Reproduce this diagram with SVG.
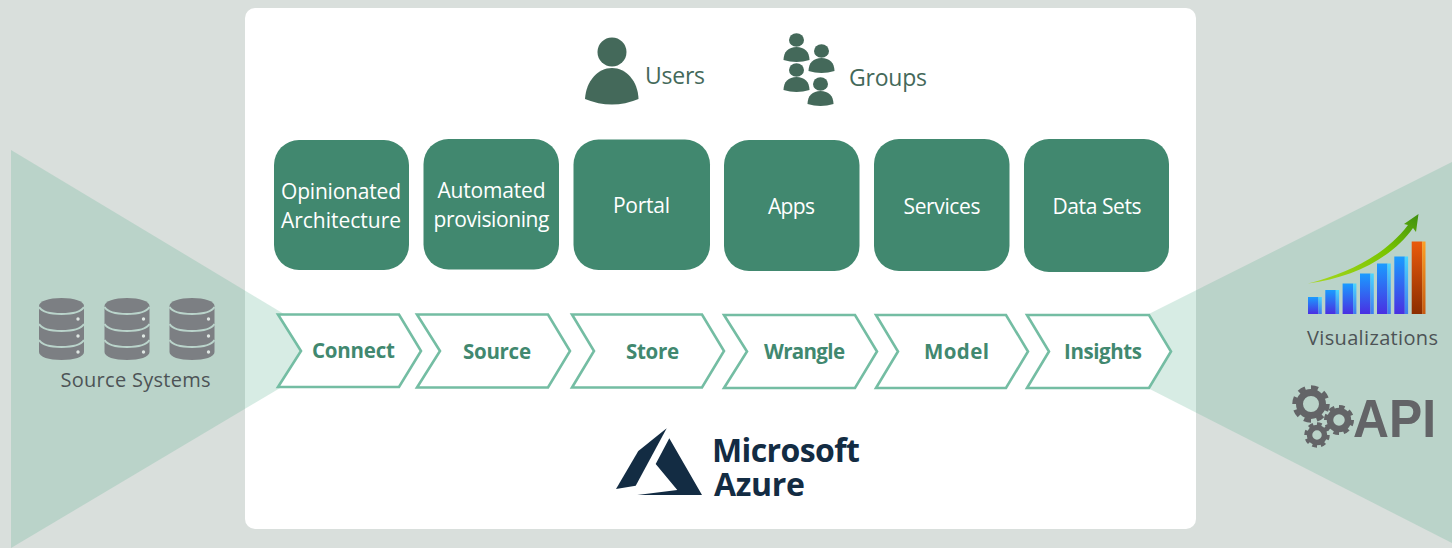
<svg xmlns="http://www.w3.org/2000/svg" xmlns:xlink="http://www.w3.org/1999/xlink" width="1452" height="548" viewBox="0 0 1452 548">
<style>
text{font-family:"Open Sans","Noto Sans","Liberation Sans",sans-serif}
.card{fill:#41886f}
.ct{fill:#fff;font-size:21px;text-anchor:middle}
.chev{fill:#fff;stroke:#74bda3;stroke-width:2.6}
.cht{fill:#41886f;font-size:20.5px;font-weight:700}
.lbl{fill:#4d5356;font-size:20px}
.ug{fill:#44695a}
.ut{fill:#44695a;font-size:23px}
.wedge{fill:#56af8e;fill-opacity:.237}
.db{fill:#7c7f83}
.dbl{fill:none;stroke:#bad4cb;stroke-width:2}
.dot{fill:#dfe7e3}
.gh{fill:none;stroke:#636467}
.az{fill:#132c43}
.azt{fill:#132c43;font-size:32px;font-weight:700}
</style>
<defs>
<linearGradient id="blue" x1="0" y1="0" x2="0" y2="1"><stop offset="0" stop-color="#1a9cff"/><stop offset="1" stop-color="#4a2fe2"/></linearGradient>
<linearGradient id="blues" x1="0" y1="0" x2="0" y2="1"><stop offset="0" stop-color="#49d6ff"/><stop offset="1" stop-color="#3f7cf0"/></linearGradient>
<linearGradient id="org" x1="0" y1="0" x2="0" y2="1"><stop offset="0" stop-color="#ea5a0c"/><stop offset="1" stop-color="#8c2e00"/></linearGradient>
<linearGradient id="orgs" x1="0" y1="0" x2="0" y2="1"><stop offset="0" stop-color="#ffa024"/><stop offset="1" stop-color="#c85a10"/></linearGradient>
<linearGradient id="grn" x1="0" y1="1" x2="1" y2="0"><stop offset="0" stop-color="#a8d820"/><stop offset=".6" stop-color="#78c400"/><stop offset="1" stop-color="#3f8f10"/></linearGradient>
<g id="person"><ellipse cx="13" cy="-7" rx="7.500" ry="6.800"/><path d="M0 13C0 5 5 0 13 0S26 5 26 13Q13 17 0 13Z"/></g>
<g id="cyl"><path d="M0 8C0 3 10 0 22.500 0S45 3 45 8V54C45 59 35 62 22.500 62S0 59 0 54Z" class="db"/>
<path class="dbl" d="M0 9C3 14 12 16 22.500 16S42 14 45 9M0 26C3 31 12 33 22.500 33S42 31 45 26M0 42C3 47 12 49 22.500 49S42 47 45 42"/>
<circle class="dot" cx="39" cy="21" r="1.700"/><circle class="dot" cx="39" cy="38" r="1.700"/><circle class="dot" cx="39" cy="54" r="1.700"/></g>
</defs>
<rect width="1452" height="548" fill="#d9dfdc"/>
<rect id="panel" x="245" y="8" width="951" height="521" rx="10" fill="#fff"/>
<polygon id="wedge-left" class="wedge" points="11,150 344,350 11,548"/>
<polygon id="wedge-right" class="wedge" points="1452,162 1075,351 1452,543"/>

<g id="users"><g class="ug"><circle cx="612" cy="52" r="14.500"/><path d="M585 99C586 81 598 68 612 68S638 81 638.500 99Q612 110 585 99Z"/></g><text class="ut" x="645" y="84" textLength="60">Users</text></g>
<g id="groups"><g class="ug"><use xlink:href="#person" href="#person" x="783.500" y="47"/><use xlink:href="#person" href="#person" x="808.500" y="58"/><use xlink:href="#person" href="#person" x="783.500" y="77"/><use xlink:href="#person" href="#person" x="807.500" y="91"/></g><text class="ut" x="849" y="86" textLength="78">Groups</text></g>

<g id="card-architecture"><rect class="card" x="274" y="140" width="135" height="130" rx="25"/><text class="ct" x="341" y="199" textLength="120">Opinionated</text><text class="ct" x="341" y="228" textLength="120">Architecture</text></g>
<g id="card-provisioning"><rect class="card" x="423.500" y="139" width="135.500" height="130.500" rx="25"/><text class="ct" x="491.500" y="198" textLength="108">Automated</text><text class="ct" x="491.500" y="227" textLength="116">provisioning</text></g>
<g id="card-portal"><rect class="card" x="573.500" y="139.500" width="136.500" height="130.500" rx="25"/><text class="ct" x="641.500" y="213" textLength="57">Portal</text></g>
<g id="card-apps"><rect class="card" x="724" y="140" width="135.500" height="131" rx="25"/><text class="ct" x="791.500" y="214" textLength="47">Apps</text></g>
<g id="card-services"><rect class="card" x="874" y="139" width="135.500" height="132" rx="25"/><text class="ct" x="942" y="214" textLength="77">Services</text></g>
<g id="card-datasets"><rect class="card" x="1024" y="139" width="145" height="133" rx="25"/><text class="ct" x="1097" y="214" textLength="89">Data Sets</text></g>

<g id="connectors">
<g id="step-connect"><polygon class="chev" points="278,314.500 399,314.500 421,351 399,387 278,387 301,351"/><text class="cht" x="312" y="357.500" textLength="83">Connect</text></g>
<g id="step-source"><polygon class="chev" points="417,314.500 548,314.500 570,351 548,387.500 417,387.500 440,351"/><text class="cht" x="463" y="358.500" textLength="68">Source</text></g>
<g id="step-store"><polygon class="chev" points="572,314.500 702,314.500 724,351 702,387.500 572,387.500 594,351"/><text class="cht" x="626" y="358.500" textLength="53">Store</text></g>
<g id="step-wrangle"><polygon class="chev" points="724,315 855,315 877,351.500 855,388 724,388 747,351.500"/><text class="cht" x="764" y="358.500" textLength="81">Wrangle</text></g>
<g id="step-model"><polygon class="chev" points="876,315 1006,315 1028,351.500 1006,388 876,388 898,351.500"/><text class="cht" x="924" y="358.500" textLength="65">Model</text></g>
<g id="step-insights"><polygon class="chev" points="1027,315 1149,315 1171,351.500 1149,388 1027,388 1049,351.500"/><text class="cht" x="1064" y="358.500" textLength="78">Insights</text></g>
</g>

<g id="azure"><polygon class="az" points="666.700,428.300 638.300,451 616,489 635.700,485.700"/><polygon class="az" points="669.300,438.300 655.700,464 677.300,490 637.300,495 702,495"/><text class="azt" x="712" y="461.500" textLength="148">Microsoft</text><text class="azt" x="714" y="495.500" textLength="91">Azure</text></g>

<g id="source-systems"><use xlink:href="#cyl" href="#cyl" x="39" y="298"/><use xlink:href="#cyl" href="#cyl" x="104.500" y="298"/><use xlink:href="#cyl" href="#cyl" x="169.500" y="298"/><text class="lbl" x="60.500" y="386.500" textLength="150">Source Systems</text></g>

<g id="visualizations">
<g id="bars">
<rect x="1308" y="297" width="10.500" height="17" fill="url(#blue)"/><rect x="1318.500" y="297" width="3.300" height="17" fill="url(#blues)"/>
<rect x="1325.300" y="290" width="10.500" height="24" fill="url(#blue)"/><rect x="1335.800" y="290" width="3.300" height="24" fill="url(#blues)"/>
<rect x="1342.600" y="283.500" width="10.500" height="30.500" fill="url(#blue)"/><rect x="1353.100" y="283.500" width="3.300" height="30.500" fill="url(#blues)"/>
<rect x="1360" y="273.500" width="10.500" height="40.500" fill="url(#blue)"/><rect x="1370.500" y="273.500" width="3.300" height="40.500" fill="url(#blues)"/>
<rect x="1377" y="263.500" width="10.500" height="50.500" fill="url(#blue)"/><rect x="1387.500" y="263.500" width="3.300" height="50.500" fill="url(#blues)"/>
<rect x="1394.300" y="256.500" width="10.500" height="57.500" fill="url(#blue)"/><rect x="1404.800" y="256.500" width="3.300" height="57.500" fill="url(#blues)"/>
<rect x="1411.700" y="241.500" width="10.500" height="72.500" fill="url(#org)"/><rect x="1422.200" y="241.500" width="3.300" height="72.500" fill="url(#orgs)"/>
</g>
<path fill="url(#grn)" d="M1308 283.500C1350 273 1386 254 1408 225L1404 224 1418.500 214 1416 232 1413 228C1392 258 1352 278 1308 283.500Z"/>
<text class="lbl" x="1307" y="344.500" textLength="131">Visualizations</text>
</g>

<g id="api">
<g id="gear-big"><circle class="gh" cx="1311" cy="404" r="11.500" stroke-width="7"/><circle class="gh" cx="1311" cy="404" r="16.500" stroke-width="4.500" pathLength="16" stroke-dasharray="1.100 0.900"/></g>
<g id="gear-mid"><circle class="gh" cx="1339" cy="420" r="9" stroke-width="6.500"/><circle class="gh" cx="1339" cy="420" r="13" stroke-width="4" pathLength="16" stroke-dasharray="1.100 0.900"/></g>
<g id="gear-small"><circle class="gh" cx="1317" cy="435" r="7.500" stroke-width="5.500"/><circle class="gh" cx="1317" cy="435" r="11" stroke-width="3.500" pathLength="16" stroke-dasharray="1.100 0.900"/></g>
<text x="1353" y="437" textLength="83" lengthAdjust="spacingAndGlyphs" style="font-family:'Liberation Sans',Arial,sans-serif;font-weight:700;font-size:53px;fill:#636467">API</text>
</g>
</svg>
